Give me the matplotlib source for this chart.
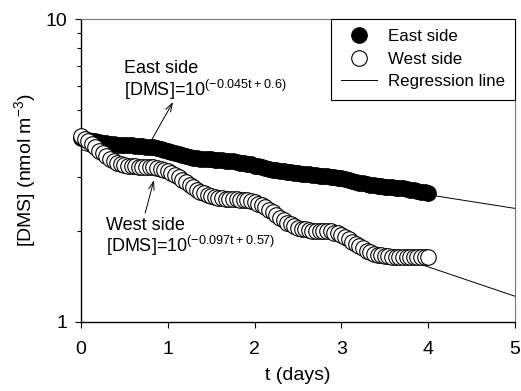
import numpy as np
import matplotlib
matplotlib.use("Agg")
import matplotlib.pyplot as plt

plt.rcParams['font.family'] = ['Liberation Sans', 'DejaVu Sans']
plt.rcParams['mathtext.fontset'] = 'custom'
plt.rcParams['mathtext.rm'] = 'Liberation Sans'
plt.rcParams['mathtext.default'] = 'regular'

# sampling times (hours since start)
t_hours = [0, 1, 2, 3, 4, 5, 6, 7, 8, 9, 10, 11, 12, 13, 14, 15, 16, 17, 18, 19,
           20, 21, 22, 23, 24, 25, 26, 27, 28, 29, 30, 31, 32, 33, 34, 35, 36, 37, 38, 39,
           40, 41, 42, 43, 44, 45, 46, 47, 48, 49, 50, 51, 52, 53, 54, 55, 56, 57, 58, 59,
           60, 61, 62, 63, 64, 65, 66, 67, 68, 69, 70, 71, 72, 73, 74, 75, 76, 77, 78, 79,
           80, 81, 82, 83, 84, 85, 86, 87, 88, 89, 90, 91, 92, 93, 94, 95, 96]

west_dms = [4.11, 4.03, 3.96, 3.87, 3.77, 3.68, 3.60, 3.52, 3.46, 3.41, 3.36, 3.33, 3.30, 3.28,
            3.27, 3.26, 3.25, 3.25, 3.25, 3.25, 3.24, 3.23, 3.21, 3.18, 3.15, 3.10, 3.05, 3.00,
            2.94, 2.89, 2.83, 2.78, 2.73, 2.69, 2.66, 2.63, 2.61, 2.59, 2.57, 2.56, 2.55, 2.55,
            2.54, 2.54, 2.53, 2.53, 2.52, 2.50, 2.49, 2.46, 2.43, 2.39, 2.34, 2.30, 2.25, 2.21,
            2.17, 2.13, 2.10, 2.07, 2.04, 2.03, 2.02, 2.01, 2.00, 2.00, 2.00, 2.00, 1.99, 1.99,
            1.97, 1.96, 1.94, 1.91, 1.88, 1.84, 1.81, 1.78, 1.75, 1.72, 1.70, 1.68, 1.67, 1.66,
            1.65, 1.65, 1.64, 1.64, 1.64, 1.64, 1.64, 1.64, 1.64, 1.64, 1.64, 1.64, 1.64]

east_dms = [4.05, 4.02, 4.00, 3.97, 3.95, 3.92, 3.90, 3.89, 3.87, 3.86, 3.85, 3.84, 3.84, 3.83,
            3.83, 3.82, 3.81, 3.81, 3.79, 3.78, 3.77, 3.75, 3.73, 3.70, 3.67, 3.64, 3.61, 3.58,
            3.55, 3.53, 3.50, 3.48, 3.47, 3.46, 3.45, 3.44, 3.44, 3.43, 3.43, 3.42, 3.41, 3.40,
            3.39, 3.38, 3.36, 3.34, 3.33, 3.31, 3.28, 3.26, 3.24, 3.22, 3.20, 3.18, 3.17, 3.15,
            3.14, 3.13, 3.12, 3.11, 3.10, 3.09, 3.08, 3.07, 3.06, 3.05, 3.04, 3.03, 3.03, 3.02,
            3.00, 2.99, 2.98, 2.96, 2.94, 2.92, 2.90, 2.88, 2.87, 2.86, 2.84, 2.83, 2.82, 2.81,
            2.80, 2.79, 2.78, 2.77, 2.76, 2.76, 2.74, 2.73, 2.72, 2.70, 2.69, 2.68, 2.67]

# regression: log10[DMS] = slope * t + intercept
east_slope, east_intercept = -0.045, 0.6
west_slope, west_intercept = -0.097, 0.57
reg_t = [0, 5]

x_ticks = [0, 1, 2, 3, 4, 5]
y_ticks = [1, 10]
y_ticklabels = ['1', '10']

t_days = np.array(t_hours) / 24.0
reg_t_arr = np.array(reg_t, dtype=float)

fig = plt.figure(figsize=(5.21, 3.91), dpi=100)
ax = fig.add_axes([81/521, 1 - 322/391, 434/521, 303/391])
ax.set_yscale('log')

ax.plot(reg_t_arr, 10 ** (east_slope * reg_t_arr + east_intercept), color='k', lw=0.7, zorder=1)
ax.plot(reg_t_arr, 10 ** (west_slope * reg_t_arr + west_intercept), color='k', lw=0.7, zorder=1,
        label='Regression line')
ax.plot(t_days, east_dms, 'o', ls='none', color='k', mfc='k', mec='k', ms=11.2, mew=0.8,
        zorder=2, label='East side', clip_on=False)
ax.plot(t_days, west_dms, 'o', ls='none', mfc='white', mec='k', ms=11.2, mew=0.8,
        zorder=3, label='West side', clip_on=False)

ax.set_xlim(0, 5)
ax.set_ylim(1, 10)
ax.set_xticks(x_ticks)
ax.set_xticklabels([str(v) for v in x_ticks], fontsize=14)
ax.set_yticks(y_ticks)
ax.set_yticklabels(y_ticklabels, fontsize=14)
ax.yaxis.set_minor_locator(matplotlib.ticker.LogLocator(base=10, subs=np.arange(2, 10)))
ax.yaxis.set_minor_formatter(matplotlib.ticker.NullFormatter())
ax.tick_params(axis='both', which='major', direction='out', length=4, width=0.8, color='k')
ax.tick_params(axis='y', which='major', pad=6)
ax.tick_params(axis='x', which='major', pad=10)
ax.tick_params(axis='y', which='minor', direction='out', length=3, width=0.8)

for s in ['left', 'bottom']:
    ax.spines[s].set_color('k')
    ax.spines[s].set_linewidth(1.0)
for s in ['top', 'right']:
    ax.spines[s].set_color('#777777')
    ax.spines[s].set_linewidth(0.8)

ax.set_xlabel('t (days)', fontsize=14)
ax.set_ylabel('[DMS] (nmol m$^{-3}$)', fontsize=14)
ax.xaxis.set_label_coords(0.5, -0.15)
ax.yaxis.set_label_coords(-0.10, 0.5)

handles, labels = ax.get_legend_handles_labels()
order = [labels.index('East side'), labels.index('West side'), labels.index('Regression line')]
leg = ax.legend([handles[i] for i in order], [labels[i] for i in order],
                loc='upper right', borderaxespad=0, fontsize=12.2, fancybox=False,
                framealpha=1, edgecolor='k', numpoints=1, handlelength=2.1,
                handletextpad=0.65, labelspacing=0.45, borderpad=0.6)
leg.get_frame().set_linewidth(0.8)

# annotations
ax.text(0.099, 0.822, 'East side', transform=ax.transAxes, fontsize=13, va='baseline')
ax.text(0.099, 0.746, '[DMS]=10$^{(-0.045t+0.6)}$', transform=ax.transAxes, fontsize=13,
        va='baseline')
ax.text(0.058, 0.304, 'West side', transform=ax.transAxes, fontsize=13, va='baseline')
ax.text(0.058, 0.231, '[DMS]=10$^{(-0.097t+0.57)}$', transform=ax.transAxes, fontsize=13,
        va='baseline')

arrow = dict(arrowstyle='->,head_length=0.6,head_width=0.2', lw=0.7, color='k',
             shrinkA=0, shrinkB=0)
ax.annotate('', xy=(1.06, 5.32), xytext=(0.82, 4.02), arrowprops=arrow, zorder=4)
ax.annotate('', xy=(0.84, 2.94), xytext=(0.74, 2.29), arrowprops=arrow, zorder=4)

fig.savefig('out.png', dpi=100)
